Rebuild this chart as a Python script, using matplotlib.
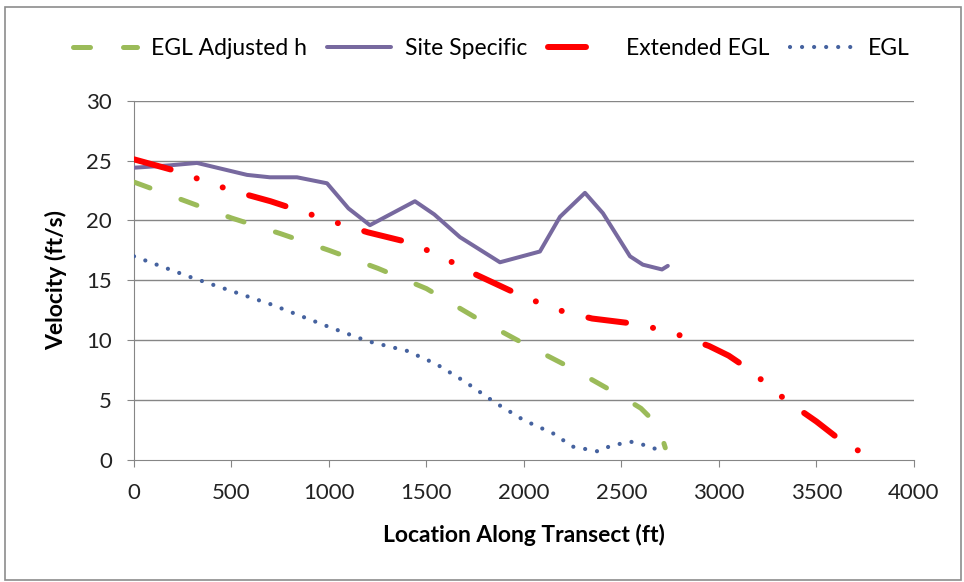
import matplotlib
matplotlib.use("Agg")
import matplotlib.pyplot as plt
from matplotlib.patches import Rectangle

# Site Specific
site_x = [0, 185, 323, 580, 697, 836, 990, 1100, 1210, 1441, 1540, 1672, 1877, 2082, 2185, 2313, 2405, 2544, 2610, 2708, 2738]
site_y = [24.4, 24.6, 24.8, 23.8, 23.6, 23.6, 23.1, 21.0, 19.6, 21.6, 20.5, 18.6, 16.5, 17.4, 20.3, 22.3, 20.6, 17.0, 16.3, 15.9, 16.2]

# EGL Adjusted h
adj_x = [0, 250, 500, 750, 1000, 1250, 1500, 1750, 2000, 2250, 2500, 2600, 2680, 2710, 2725]
adj_y = [23.2, 21.7, 20.2, 18.9, 17.5, 16.0, 14.3, 11.9, 9.7, 7.6, 5.3, 4.3, 3.0, 1.8, 1.0]

# Extended EGL
ext_x = [0, 200, 500, 700, 1000, 1200, 1400, 1550, 1750, 2000, 2200, 2350, 2600, 2800, 2950, 3050, 3150, 3350, 3500, 3650, 3760]
ext_y = [25.1, 24.2, 22.5, 21.6, 20.0, 19.0, 18.2, 17.2, 15.5, 13.6, 12.4, 11.8, 11.3, 10.4, 9.5, 8.7, 7.6, 4.9, 3.2, 1.3, 0.4]

# EGL
egl_x = [0, 300, 700, 1000, 1200, 1400, 1550, 1700, 1850, 2000, 2150, 2250, 2380, 2450, 2550, 2650, 2700]
egl_y = [17.0, 15.2, 13.0, 11.1, 9.9, 9.1, 8.0, 6.5, 4.8, 3.3, 2.2, 1.1, 0.7, 1.2, 1.5, 1.1, 0.7]

plt.rcParams['font.family'] = ['Lato', 'DejaVu Sans']

fig = plt.figure(figsize=(9.64, 5.82), dpi=100)
ax = fig.add_axes([0.139, 0.21, 0.809, 0.617])

grid_c = '#868686'
for v in range(5, 31, 5):
    ax.axhline(v, color=grid_c, lw=1, zorder=0)

px = 72 / 100  # points per pixel

ax.plot(adj_x, adj_y, color='#9BBB59', lw=5 * px, dashes=(17 / 5, 33 / 5),
        dash_capstyle='round', label='EGL Adjusted h', zorder=3)
ax.plot(site_x, site_y, color='#77699f', lw=4 * px, label='Site Specific',
        solid_joinstyle='round', solid_capstyle='round', zorder=3)
# long dash, dot, dot
ax.plot(ext_x, ext_y, color='#FF0000', lw=6 * px,
        dashes=(38 / 6, 27.5 / 6, 0.01, 27.5 / 6, 0.01, 27.5 / 6),
        dash_capstyle='round', label='Extended EGL', zorder=4)
ax.plot(egl_x, egl_y, color='#45629f', lw=4.2 * px, dashes=(0.01, 12 / 4.2),
        dash_capstyle='round', label='EGL', zorder=3)

ax.set_xlim(0, 4000)
ax.set_ylim(0, 30)
ax.set_xticks(range(0, 4001, 500))
ax.set_yticks(range(0, 31, 5))
ax.tick_params(axis='both', direction='out', length=5, color=grid_c,
               labelsize=16, labelcolor='#222222')
ax.tick_params(axis='y', pad=11)
ax.tick_params(axis='x', pad=12)
for s in ['top', 'right']:
    ax.spines[s].set_visible(False)
ax.spines['left'].set_color(grid_c)
ax.spines['bottom'].set_color(grid_c)

ax.set_xlabel('Location Along Transect (ft)', fontsize=16.5, fontweight='bold')
ax.set_ylabel('Velocity (ft/s)', fontsize=16.5, fontweight='bold')
ax.xaxis.set_label_coords(0.5, -0.178)
ax.yaxis.set_label_coords(-0.086, 0.5)

ax.legend(loc='center', bbox_to_anchor=(0.458, 1.145), ncol=4, frameon=False,
          fontsize=16.5, handlelength=2.8, columnspacing=0.9, handletextpad=0.6)

fig.patches.append(Rectangle((0.005, 0.003), 0.992, 0.985, transform=fig.transFigure,
                             fill=False, edgecolor='#8c8c8c', lw=1.2))

fig.savefig('out.png', dpi=100)
